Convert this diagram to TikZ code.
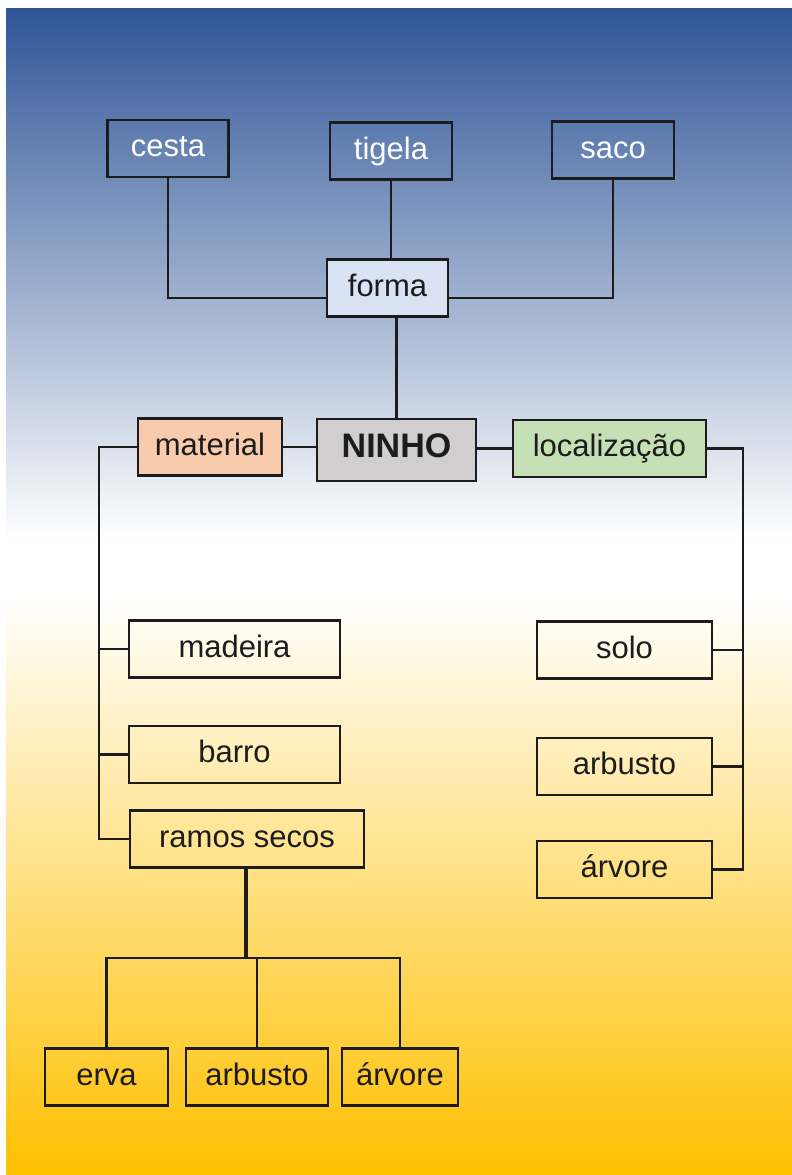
\documentclass[tikz,border=0pt]{standalone}
\usepackage{fontspec}
\setmainfont{Liberation Sans}
\usepackage{xcolor}
\usetikzlibrary{calc,positioning}
\definecolor{nestblue}{HTML}{2F5597}
\definecolor{nestgold}{HTML}{FFC000}
\definecolor{formafill}{HTML}{DAE3F3}
\definecolor{materialfill}{HTML}{F8CBAD}
\definecolor{ninhofill}{HTML}{D0CECE}
\definecolor{localfill}{HTML}{C5E0B4}
\definecolor{inkgray}{HTML}{1C1C1C}
\pgfdeclareverticalshading{nestsky}{100bp}{color(0bp)=(nestgold); color(25bp)=(nestgold); color(49.8bp)=(white); color(52.2bp)=(white); color(75bp)=(nestblue); color(100bp)=(nestblue)}
\tikzset{
  link/.style={line width=2.8pt,inkgray},
  box/.style={draw=inkgray,line width=2.8pt,minimum height=57pt,inner sep=0pt,text=inkgray,
    text height=22pt,text depth=6pt,font=\fontsize{31}{35}\selectfont},
  topbox/.style={box,text=white},
  formabox/.style={box,fill=formafill},
  materialbox/.style={box,fill=materialfill},
  ninhobox/.style={box,fill=ninhofill,minimum height=62pt,text height=23pt,text depth=9pt,
    font=\fontsize{34}{38}\selectfont\bfseries},
  localbox/.style={box,fill=localfill}
}

\begin{document}
\begin{tikzpicture}[x=1pt,y=-1pt]
  \useasboundingbox (0,0) rectangle (792,1175);
  \shade[shading=nestsky] (6,8) rectangle (792,1175);

  % forma branch
  \node[topbox,minimum width=121pt] (cesta) at (168,148.5) {cesta};
  \node[topbox,minimum width=122pt] (tigela) at (391,151) {tigela};
  \node[topbox,minimum width=122pt] (saco) at (613,150) {saco};
  \node[formabox,minimum width=121pt] (forma) at (387.5,288) {forma};

  % centre row
  \node[ninhobox,minimum width=159pt] (ninho) at (396.5,450) {NINHO};
  \node[materialbox,minimum width=144pt] (material) at (210,447) {material};
  \node[localbox,minimum width=193pt] (localizacao) at (609.5,448.5) {localização};

  % material
  \node[box,minimum width=211pt] (madeira) at (234.5,649) {madeira};
  \node[box,minimum width=211pt] (barro) at (234.5,754.5) {barro};
  \node[box,minimum width=234pt] (ramos) at (247,839) {ramos secos};
  \node[box,minimum width=123pt] (erva) at (106.5,1077) {erva};
  \node[box,minimum width=142pt] (arbustoramo) at (257,1077) {arbusto};
  \node[box,minimum width=116pt] (arvoreramo) at (400,1077) {árvore};

  % localizacao
  \node[box,minimum width=175pt] (solo) at (624.5,650) {solo};
  \node[box,minimum width=175pt] (arbustoloc) at (624.5,766.5) {arbusto};
  \node[box,minimum width=175pt] (arvoreloc) at (624.5,869.5) {árvore};

  \coordinate (matspine) at (99,449);
  \coordinate (locspine) at (743,449);
  \coordinate (ramosbar) at (246,958);

  \draw[link] (cesta.south) |- ([yshift=-10pt]forma.west);
  \draw[link] (saco.south) |- ([yshift=-10pt]forma.east);
  \draw[link] (tigela.south) -- (tigela.south |- forma.north);
  \draw[link] (ninho.north |- forma.south) -- (ninho.north);
  \draw[link] (material.east) -- (material.east -| ninho.west);
  \draw[link] (localizacao.west) -- (localizacao.west -| ninho.east);

  \draw[link] (material.west) -- (material.west -| matspine) |- (ramos.west);
  \foreach \n in {madeira,barro} \draw[link] (\n.west) -- (\n.west -| matspine);
  \draw[link] (localizacao.east) -- (localizacao.east -| locspine) |- (arvoreloc.east);
  \foreach \n in {solo,arbustoloc} \draw[link] (\n.east) -- (\n.east -| locspine);

  \draw[link,line width=3.6pt] (ramos.south -| ramosbar) -- (ramosbar);
  \foreach \n in {erva,arbustoramo,arvoreramo} \draw[link] (\n.north) |- (ramosbar);
\end{tikzpicture}
\end{document}
